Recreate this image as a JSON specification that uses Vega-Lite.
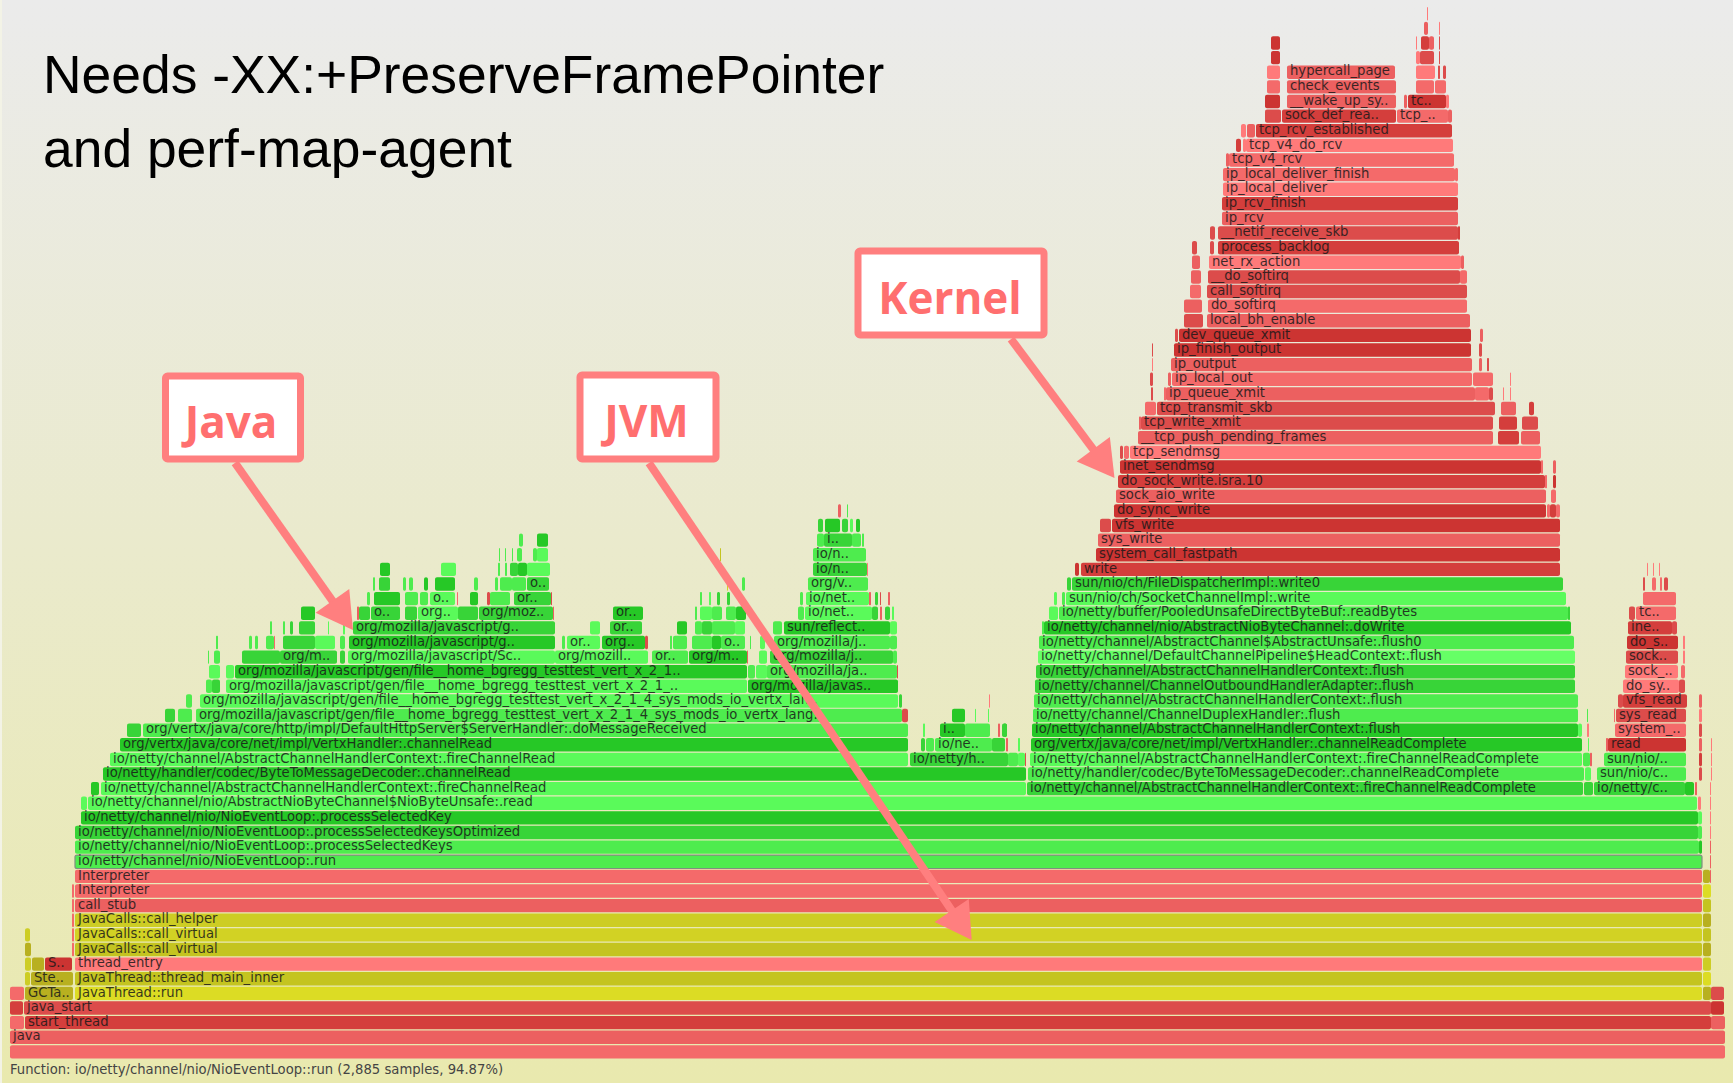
{"$schema":"https://vega.github.io/schema/vega-lite/v6.json","width":1733,"height":1083,"padding":0,"autosize":{"type":"none"},"background":"#f3f3e6","config":{"view":{"stroke":null}},
"datasets":{"frames":[
{"level":0,"x0":10,"x1":1725,"shade":"r5"},
{"level":1,"x0":10,"x1":1725,"shade":"r4","name":"java"},
{"level":2,"x0":10,"x1":24,"shade":"r5"},{"level":2,"x0":25,"x1":1711,"shade":"r2","name":"start_thread"},{"level":2,"x0":1711,"x1":1725,"shade":"r4"},
{"level":3,"x0":10,"x1":23,"shade":"r2"},{"level":3,"x0":24,"x1":1711,"shade":"r3","name":"java_start"},{"level":3,"x0":1711,"x1":1724,"shade":"r1"},
{"level":4,"x0":10,"x1":24,"shade":"r5"},{"level":4,"x0":25,"x1":73,"shade":"y1","name":"GCTa.."},{"level":4,"x0":75,"x1":1702,"shade":"y5","name":"JavaThread::run"},{"level":4,"x0":1703,"x1":1711,"shade":"y1"},{"level":4,"x0":1711,"x1":1724,"shade":"r3"},
{"level":5,"x0":25,"x1":30,"shade":"y3"},{"level":5,"x0":31,"x1":73,"shade":"y1","name":"Ste.."},{"level":5,"x0":75,"x1":1702,"shade":"y2","name":"JavaThread::thread_main_inner"},{"level":5,"x0":1703,"x1":1711,"shade":"y5"},
{"level":6,"x0":25,"x1":31,"shade":"y3"},{"level":6,"x0":32,"x1":44,"shade":"y1"},{"level":6,"x0":45,"x1":72,"shade":"r1","name":"S.."},{"level":6,"x0":75,"x1":1702,"shade":"r6","name":"thread_entry"},{"level":6,"x0":1703,"x1":1711,"shade":"y3"},
{"level":7,"x0":25,"x1":31,"shade":"y1"},{"level":7,"x0":72,"x1":74,"shade":"r5"},{"level":7,"x0":75,"x1":1702,"shade":"y2","name":"JavaCalls::call_virtual"},{"level":7,"x0":1703,"x1":1711,"shade":"y1"},
{"level":8,"x0":25,"x1":30,"shade":"y3"},{"level":8,"x0":72,"x1":74,"shade":"r5"},{"level":8,"x0":75,"x1":1702,"shade":"y4","name":"JavaCalls::call_virtual"},{"level":8,"x0":1703,"x1":1711,"shade":"y2"},
{"level":9,"x0":72,"x1":74,"shade":"r5"},{"level":9,"x0":75,"x1":1702,"shade":"y3","name":"JavaCalls::call_helper"},{"level":9,"x0":1703,"x1":1711,"shade":"y1"},
{"level":10,"x0":72,"x1":74,"shade":"r5"},{"level":10,"x0":75,"x1":1702,"shade":"r4","name":"call_stub"},{"level":10,"x0":1703,"x1":1711,"shade":"y2"},
{"level":11,"x0":72,"x1":74,"shade":"r5"},{"level":11,"x0":75,"x1":1702,"shade":"r5","name":"Interpreter"},{"level":11,"x0":1703,"x1":1711,"shade":"y5"},
{"level":12,"x0":75,"x1":1702,"shade":"r5","name":"Interpreter"},{"level":12,"x0":1703,"x1":1710,"shade":"y1"},{"level":12,"x0":1710,"x1":1711,"shade":"r4"},
{"level":13,"x0":75,"x1":1702,"shade":"g3","name":"io/netty/channel/nio/NioEventLoop:.run"},{"level":13,"x0":1710,"x1":1711,"shade":"r4"},
{"level":14,"x0":75,"x1":1699,"shade":"g3","name":"io/netty/channel/nio/NioEventLoop:.processSelectedKeys"},{"level":14,"x0":1699,"x1":1702,"shade":"g1"},{"level":14,"x0":1710,"x1":1711,"shade":"r4"},
{"level":15,"x0":75,"x1":1698,"shade":"g2","name":"io/netty/channel/nio/NioEventLoop:.processSelectedKeysOptimized"},{"level":15,"x0":1698,"x1":1702,"shade":"g3"},{"level":15,"x0":1710,"x1":1711,"shade":"r6"},
{"level":16,"x0":81,"x1":1698,"shade":"g1","name":"io/netty/channel/nio/NioEventLoop:.processSelectedKey"},{"level":16,"x0":1698,"x1":1702,"shade":"g4"},{"level":16,"x0":1710,"x1":1711,"shade":"r6"},
{"level":17,"x0":81,"x1":87,"shade":"g4"},{"level":17,"x0":88,"x1":1697,"shade":"g4","name":"io/netty/channel/nio/AbstractNioByteChannel$NioByteUnsafe:.read"},{"level":17,"x0":1698,"x1":1701,"shade":"r6"},{"level":17,"x0":1710,"x1":1711,"shade":"r6"},
{"level":18,"x0":91,"x1":99,"shade":"g1"},{"level":18,"x0":101,"x1":1026,"shade":"g4","name":"io/netty/channel/AbstractChannelHandlerContext:.fireChannelRead"},{"level":18,"x0":1027,"x1":1583,"shade":"g2","name":"io/netty/channel/AbstractChannelHandlerContext:.fireChannelReadComplete"},{"level":18,"x0":1584,"x1":1593,"shade":"g2"},{"level":18,"x0":1594,"x1":1685,"shade":"g2","name":"io/netty/c.."},{"level":18,"x0":1685,"x1":1694,"shade":"g1"},{"level":18,"x0":1695,"x1":1697,"shade":"r4"},{"level":18,"x0":1710,"x1":1711,"shade":"r6"},
{"level":19,"x0":103,"x1":1026,"shade":"g1","name":"io/netty/handler/codec/ByteToMessageDecoder:.channelRead"},{"level":19,"x0":1028,"x1":1584,"shade":"g3","name":"io/netty/handler/codec/ByteToMessageDecoder:.channelReadComplete"},{"level":19,"x0":1585,"x1":1591,"shade":"g4"},{"level":19,"x0":1597,"x1":1686,"shade":"g3","name":"sun/nio/c.."},{"level":19,"x0":1699,"x1":1702,"shade":"r3"},{"level":19,"x0":1711,"x1":1712,"shade":"r6"},
{"level":20,"x0":110,"x1":908,"shade":"g4","name":"io/netty/channel/AbstractChannelHandlerContext:.fireChannelRead"},{"level":20,"x0":910,"x1":1008,"shade":"g2","name":"io/netty/h.."},{"level":20,"x0":1008,"x1":1018,"shade":"g3"},{"level":20,"x0":1018,"x1":1025,"shade":"g4"},{"level":20,"x0":1025,"x1":1026,"shade":"r3"},{"level":20,"x0":1030,"x1":1582,"shade":"g4","name":"io/netty/channel/AbstractChannelHandlerContext:.fireChannelReadComplete"},{"level":20,"x0":1583,"x1":1590,"shade":"g3"},{"level":20,"x0":1590,"x1":1592,"shade":"r4"},{"level":20,"x0":1604,"x1":1686,"shade":"g3","name":"sun/nio/.."},{"level":20,"x0":1699,"x1":1702,"shade":"r2"},{"level":20,"x0":1711,"x1":1712,"shade":"r6"},
{"level":21,"x0":120,"x1":908,"shade":"g1","name":"org/vertx/java/core/net/impl/VertxHandler:.channelRead"},{"level":21,"x0":921,"x1":925,"shade":"g2"},{"level":21,"x0":926,"x1":934,"shade":"g3"},{"level":21,"x0":935,"x1":992,"shade":"g3","name":"io/ne.."},{"level":21,"x0":992,"x1":1005,"shade":"g2"},{"level":21,"x0":1006,"x1":1008,"shade":"r4"},{"level":21,"x0":1018,"x1":1020,"shade":"g4"},{"level":21,"x0":1031,"x1":1582,"shade":"g1","name":"org/vertx/java/core/net/impl/VertxHandler:.channelReadComplete"},{"level":21,"x0":1588,"x1":1589,"shade":"g4"},{"level":21,"x0":1606,"x1":1608,"shade":"r4"},{"level":21,"x0":1608,"x1":1686,"shade":"r1","name":"read"},{"level":21,"x0":1699,"x1":1702,"shade":"r4"},{"level":21,"x0":1711,"x1":1712,"shade":"r6"},
{"level":22,"x0":127,"x1":141,"shade":"g2"},{"level":22,"x0":143,"x1":908,"shade":"g3","name":"org/vertx/java/core/http/impl/DefaultHttpServer$ServerHandler:.doMessageReceived"},{"level":22,"x0":923,"x1":925,"shade":"g4"},{"level":22,"x0":940,"x1":965,"shade":"g1","name":"i.."},{"level":22,"x0":965,"x1":990,"shade":"g3"},{"level":22,"x0":998,"x1":1000,"shade":"r4"},{"level":22,"x0":1003,"x1":1007,"shade":"g1"},{"level":22,"x0":1002,"x1":1007,"shade":"g2"},{"level":22,"x0":1032,"x1":1578,"shade":"g1","name":"io/netty/channel/AbstractChannelHandlerContext:.flush"},{"level":22,"x0":1578,"x1":1582,"shade":"g4"},{"level":22,"x0":1587,"x1":1589,"shade":"r6"},{"level":22,"x0":1615,"x1":1686,"shade":"r5","name":"system_.."},{"level":22,"x0":1699,"x1":1702,"shade":"r3"},
{"level":23,"x0":165,"x1":175,"shade":"g2"},{"level":23,"x0":178,"x1":192,"shade":"g3"},{"level":23,"x0":196,"x1":902,"shade":"g3","name":"org/mozilla/javascript/gen/file__home_bgregg_testtest_vert_x_2_1_4_sys_mods_io_vertx_lang.."},{"level":23,"x0":902,"x1":908,"shade":"r3"},{"level":23,"x0":952,"x1":965,"shade":"g1"},{"level":23,"x0":975,"x1":976,"shade":"g4"},{"level":23,"x0":988,"x1":989,"shade":"g4"},{"level":23,"x0":1033,"x1":1578,"shade":"g3","name":"io/netty/channel/ChannelDuplexHandler:.flush"},{"level":23,"x0":1587,"x1":1588,"shade":"g3"},{"level":23,"x0":1614,"x1":1615,"shade":"r5"},{"level":23,"x0":1616,"x1":1686,"shade":"r3","name":"sys_read"},{"level":23,"x0":1699,"x1":1702,"shade":"r6"},
{"level":24,"x0":186,"x1":192,"shade":"g3"},{"level":24,"x0":200,"x1":898,"shade":"g4","name":"org/mozilla/javascript/gen/file__home_bgregg_testtest_vert_x_2_1_4_sys_mods_io_vertx_lan.."},{"level":24,"x0":899,"x1":902,"shade":"g2"},{"level":24,"x0":989,"x1":990,"shade":"r6"},{"level":24,"x0":1034,"x1":1578,"shade":"g3","name":"io/netty/channel/AbstractChannelHandlerContext:.flush"},{"level":24,"x0":1618,"x1":1623,"shade":"r3"},{"level":24,"x0":1623,"x1":1687,"shade":"r2","name":"vfs_read"},{"level":24,"x0":1699,"x1":1702,"shade":"r4"},
{"level":25,"x0":206,"x1":212,"shade":"g3"},{"level":25,"x0":212,"x1":220,"shade":"g2"},{"level":25,"x0":226,"x1":747,"shade":"g4","name":"org/mozilla/javascript/gen/file__home_bgregg_testtest_vert_x_2_1_.."},{"level":25,"x0":748,"x1":898,"shade":"g1","name":"org/mozilla/javas.."},{"level":25,"x0":1035,"x1":1575,"shade":"g2","name":"io/netty/channel/ChannelOutboundHandlerAdapter:.flush"},{"level":25,"x0":1623,"x1":1679,"shade":"r6","name":"do_sy.."},{"level":25,"x0":1679,"x1":1685,"shade":"r3"},
{"level":26,"x0":209,"x1":220,"shade":"g4"},{"level":26,"x0":226,"x1":234,"shade":"g4"},{"level":26,"x0":235,"x1":747,"shade":"g1","name":"org/mozilla/javascript/gen/file__home_bgregg_testtest_vert_x_2_1.."},{"level":26,"x0":748,"x1":755,"shade":"g3"},{"level":26,"x0":756,"x1":767,"shade":"g4"},{"level":26,"x0":767,"x1":897,"shade":"g3","name":"org/mozilla/ja.."},{"level":26,"x0":897,"x1":898,"shade":"r3"},{"level":26,"x0":1036,"x1":1575,"shade":"g2","name":"io/netty/channel/AbstractChannelHandlerContext:.flush"},{"level":26,"x0":1625,"x1":1678,"shade":"r6","name":"sock_.."},{"level":26,"x0":1681,"x1":1685,"shade":"r5"},
{"level":27,"x0":208,"x1":209,"shade":"g3"},{"level":27,"x0":214,"x1":220,"shade":"g3"},{"level":27,"x0":242,"x1":280,"shade":"g2"},{"level":27,"x0":280,"x1":337,"shade":"g2","name":"org/m.."},{"level":27,"x0":340,"x1":345,"shade":"g2"},{"level":27,"x0":348,"x1":555,"shade":"g4","name":"org/mozilla/javascript/Sc.."},{"level":27,"x0":555,"x1":648,"shade":"g4","name":"org/mozill.."},{"level":27,"x0":652,"x1":688,"shade":"g3","name":"or.."},{"level":27,"x0":689,"x1":747,"shade":"g1","name":"org/m.."},{"level":27,"x0":747,"x1":748,"shade":"r4"},{"level":27,"x0":759,"x1":767,"shade":"g4"},{"level":27,"x0":770,"x1":893,"shade":"g2","name":"org/mozilla/j.."},{"level":27,"x0":893,"x1":897,"shade":"g3"},{"level":27,"x0":1038,"x1":1575,"shade":"g5","name":"io/netty/channel/DefaultChannelPipeline$HeadContext:.flush"},{"level":27,"x0":1626,"x1":1678,"shade":"r3","name":"sock.."},{"level":27,"x0":1683,"x1":1685,"shade":"r6"},
{"level":28,"x0":216,"x1":218,"shade":"g3"},{"level":28,"x0":249,"x1":252,"shade":"g3"},{"level":28,"x0":255,"x1":258,"shade":"g3"},{"level":28,"x0":266,"x1":274,"shade":"g3"},{"level":28,"x0":274,"x1":275,"shade":"r5"},{"level":28,"x0":283,"x1":315,"shade":"g2"},{"level":28,"x0":315,"x1":335,"shade":"g4"},{"level":28,"x0":340,"x1":345,"shade":"g3"},{"level":28,"x0":349,"x1":555,"shade":"g1","name":"org/mozilla/javascript/g.."},{"level":28,"x0":562,"x1":565,"shade":"g3"},{"level":28,"x0":567,"x1":600,"shade":"g4","name":"or.."},{"level":28,"x0":602,"x1":645,"shade":"g1","name":"org.."},{"level":28,"x0":645,"x1":648,"shade":"r3"},{"level":28,"x0":670,"x1":672,"shade":"g3"},{"level":28,"x0":673,"x1":687,"shade":"g3"},{"level":28,"x0":692,"x1":712,"shade":"g3"},{"level":28,"x0":712,"x1":721,"shade":"g1"},{"level":28,"x0":721,"x1":745,"shade":"g3","name":"o.."},{"level":28,"x0":750,"x1":751,"shade":"g3"},{"level":28,"x0":760,"x1":765,"shade":"g4"},{"level":28,"x0":774,"x1":890,"shade":"g3","name":"org/mozilla/j.."},{"level":28,"x0":890,"x1":897,"shade":"g3"},{"level":28,"x0":1039,"x1":1574,"shade":"g3","name":"io/netty/channel/AbstractChannel$AbstractUnsafe:.flush0"},{"level":28,"x0":1627,"x1":1678,"shade":"r1","name":"do_s.."},{"level":28,"x0":1683,"x1":1685,"shade":"r6"},
{"level":29,"x0":270,"x1":272,"shade":"g3"},{"level":29,"x0":283,"x1":285,"shade":"g3"},{"level":29,"x0":290,"x1":293,"shade":"g2"},{"level":29,"x0":299,"x1":315,"shade":"g2"},{"level":29,"x0":328,"x1":329,"shade":"g4"},{"level":29,"x0":343,"x1":345,"shade":"g4"},{"level":29,"x0":353,"x1":555,"shade":"g2","name":"org/mozilla/javascript/g.."},{"level":29,"x0":590,"x1":600,"shade":"g4"},{"level":29,"x0":610,"x1":642,"shade":"g2","name":"or.."},{"level":29,"x0":677,"x1":687,"shade":"g1"},{"level":29,"x0":695,"x1":702,"shade":"g3"},{"level":29,"x0":702,"x1":712,"shade":"g2"},{"level":29,"x0":712,"x1":735,"shade":"g3"},{"level":29,"x0":735,"x1":745,"shade":"g4"},{"level":29,"x0":773,"x1":782,"shade":"g3"},{"level":29,"x0":784,"x1":890,"shade":"g1","name":"sun/reflect.."},{"level":29,"x0":890,"x1":897,"shade":"g4"},{"level":29,"x0":1042,"x1":1044,"shade":"g3"},{"level":29,"x0":1044,"x1":1571,"shade":"g1","name":"io/netty/channel/nio/AbstractNioByteChannel:.doWrite"},{"level":29,"x0":1628,"x1":1672,"shade":"r2","name":"ine.."},{"level":29,"x0":1672,"x1":1677,"shade":"r3"},
{"level":30,"x0":301,"x1":315,"shade":"g1"},{"level":30,"x0":357,"x1":359,"shade":"r4"},{"level":30,"x0":359,"x1":370,"shade":"g2"},{"level":30,"x0":371,"x1":400,"shade":"g2","name":"o.."},{"level":30,"x0":405,"x1":417,"shade":"g2"},{"level":30,"x0":418,"x1":458,"shade":"g4","name":"org.."},{"level":30,"x0":458,"x1":478,"shade":"g2"},{"level":30,"x0":479,"x1":553,"shade":"g2","name":"org/moz.."},{"level":30,"x0":553,"x1":554,"shade":"r4"},{"level":30,"x0":613,"x1":643,"shade":"g1","name":"or.."},{"level":30,"x0":695,"x1":697,"shade":"g3"},{"level":30,"x0":700,"x1":712,"shade":"g4"},{"level":30,"x0":712,"x1":722,"shade":"g3"},{"level":30,"x0":726,"x1":736,"shade":"g3"},{"level":30,"x0":736,"x1":746,"shade":"g1"},{"level":30,"x0":798,"x1":804,"shade":"g3"},{"level":30,"x0":805,"x1":872,"shade":"g4","name":"io/net.."},{"level":30,"x0":872,"x1":878,"shade":"g2"},{"level":30,"x0":880,"x1":882,"shade":"r4"},{"level":30,"x0":885,"x1":890,"shade":"g2"},{"level":30,"x0":892,"x1":894,"shade":"g4"},{"level":30,"x0":1049,"x1":1058,"shade":"g4"},{"level":30,"x0":1059,"x1":1568,"shade":"g3","name":"io/netty/buffer/PooledUnsafeDirectByteBuf:.readBytes"},{"level":30,"x0":1568,"x1":1570,"shade":"g2"},{"level":30,"x0":1629,"x1":1635,"shade":"r3"},{"level":30,"x0":1636,"x1":1676,"shade":"r5","name":"tc.."},
{"level":31,"x0":367,"x1":370,"shade":"g3"},{"level":31,"x0":374,"x1":400,"shade":"g1"},{"level":31,"x0":405,"x1":418,"shade":"g3"},{"level":31,"x0":420,"x1":428,"shade":"g3"},{"level":31,"x0":430,"x1":455,"shade":"g4","name":"o.."},{"level":31,"x0":457,"x1":458,"shade":"r5"},{"level":31,"x0":470,"x1":478,"shade":"g1"},{"level":31,"x0":487,"x1":490,"shade":"r3"},{"level":31,"x0":490,"x1":510,"shade":"g3"},{"level":31,"x0":514,"x1":551,"shade":"g2","name":"or.."},{"level":31,"x0":551,"x1":552,"shade":"r3"},{"level":31,"x0":700,"x1":702,"shade":"g3"},{"level":31,"x0":709,"x1":711,"shade":"g4"},{"level":31,"x0":717,"x1":720,"shade":"g2"},{"level":31,"x0":727,"x1":730,"shade":"g2"},{"level":31,"x0":800,"x1":803,"shade":"g3"},{"level":31,"x0":806,"x1":869,"shade":"g4","name":"io/net.."},{"level":31,"x0":869,"x1":871,"shade":"r4"},{"level":31,"x0":875,"x1":878,"shade":"g2"},{"level":31,"x0":880,"x1":881,"shade":"r3"},{"level":31,"x0":888,"x1":890,"shade":"r4"},{"level":31,"x0":1054,"x1":1057,"shade":"g4"},{"level":31,"x0":1062,"x1":1065,"shade":"g3"},{"level":31,"x0":1066,"x1":1566,"shade":"g4","name":"sun/nio/ch/SocketChannelImpl:.write"},{"level":31,"x0":1643,"x1":1676,"shade":"r5"},
{"level":32,"x0":373,"x1":375,"shade":"g3"},{"level":32,"x0":379,"x1":390,"shade":"g2"},{"level":32,"x0":403,"x1":406,"shade":"g3"},{"level":32,"x0":409,"x1":413,"shade":"g3"},{"level":32,"x0":424,"x1":428,"shade":"g1"},{"level":32,"x0":435,"x1":455,"shade":"g1"},{"level":32,"x0":474,"x1":478,"shade":"g3"},{"level":32,"x0":495,"x1":498,"shade":"g3"},{"level":32,"x0":500,"x1":512,"shade":"g3"},{"level":32,"x0":512,"x1":526,"shade":"g3"},{"level":32,"x0":527,"x1":549,"shade":"g2","name":"o.."},{"level":32,"x0":727,"x1":728,"shade":"y4"},{"level":32,"x0":742,"x1":745,"shade":"g3"},{"level":32,"x0":808,"x1":868,"shade":"g3","name":"org/v.."},{"level":32,"x0":1067,"x1":1071,"shade":"g2"},{"level":32,"x0":1072,"x1":1563,"shade":"g2","name":"sun/nio/ch/FileDispatcherImpl:.write0"},{"level":32,"x0":1643,"x1":1645,"shade":"r3"},{"level":32,"x0":1652,"x1":1656,"shade":"r5"},{"level":32,"x0":1660,"x1":1662,"shade":"r5"},{"level":32,"x0":1664,"x1":1668,"shade":"r3"},
{"level":33,"x0":380,"x1":390,"shade":"g1"},{"level":33,"x0":441,"x1":456,"shade":"g4"},{"level":33,"x0":498,"x1":500,"shade":"g3"},{"level":33,"x0":505,"x1":507,"shade":"g3"},{"level":33,"x0":510,"x1":518,"shade":"g2"},{"level":33,"x0":518,"x1":527,"shade":"g1"},{"level":33,"x0":527,"x1":550,"shade":"g4"},{"level":33,"x0":813,"x1":867,"shade":"g2","name":"io/n.."},{"level":33,"x0":867,"x1":868,"shade":"r6"},{"level":33,"x0":1075,"x1":1079,"shade":"r1"},{"level":33,"x0":1081,"x1":1560,"shade":"r2","name":"write"},{"level":33,"x0":1647,"x1":1648,"shade":"r6"},{"level":33,"x0":1653,"x1":1654,"shade":"r6"},{"level":33,"x0":1659,"x1":1660,"shade":"r6"},
{"level":34,"x0":499,"x1":500,"shade":"g3"},{"level":34,"x0":505,"x1":506,"shade":"g3"},{"level":34,"x0":512,"x1":513,"shade":"g3"},{"level":34,"x0":517,"x1":522,"shade":"g3"},{"level":34,"x0":533,"x1":537,"shade":"g3"},{"level":34,"x0":537,"x1":548,"shade":"g4"},{"level":34,"x0":720,"x1":721,"shade":"y2"},{"level":34,"x0":813,"x1":866,"shade":"g3","name":"io/n.."},{"level":34,"x0":1096,"x1":1560,"shade":"r1","name":"system_call_fastpath"},
{"level":35,"x0":519,"x1":523,"shade":"g3"},{"level":35,"x0":537,"x1":548,"shade":"g1"},{"level":35,"x0":817,"x1":824,"shade":"g3"},{"level":35,"x0":824,"x1":852,"shade":"g2","name":"i.."},{"level":35,"x0":852,"x1":861,"shade":"g3"},{"level":35,"x0":862,"x1":864,"shade":"g3"},{"level":35,"x0":1098,"x1":1560,"shade":"r4","name":"sys_write"},
{"level":36,"x0":818,"x1":823,"shade":"g2"},{"level":36,"x0":825,"x1":840,"shade":"g1"},{"level":36,"x0":842,"x1":848,"shade":"g2"},{"level":36,"x0":850,"x1":853,"shade":"g4"},{"level":36,"x0":856,"x1":860,"shade":"g1"},{"level":36,"x0":1100,"x1":1111,"shade":"r3"},{"level":36,"x0":1112,"x1":1560,"shade":"r1","name":"vfs_write"},
{"level":37,"x0":838,"x1":841,"shade":"r4"},{"level":37,"x0":847,"x1":848,"shade":"g3"},{"level":37,"x0":1114,"x1":1546,"shade":"r1","name":"do_sync_write"},{"level":37,"x0":1547,"x1":1550,"shade":"r5"},{"level":37,"x0":1550,"x1":1556,"shade":"r2"},{"level":37,"x0":1556,"x1":1560,"shade":"r5"},
{"level":38,"x0":1116,"x1":1546,"shade":"r4","name":"sock_aio_write"},{"level":38,"x0":1551,"x1":1556,"shade":"r5"},
{"level":39,"x0":1118,"x1":1545,"shade":"r2","name":"do_sock_write.isra.10"},{"level":39,"x0":1545,"x1":1547,"shade":"r5"},{"level":39,"x0":1553,"x1":1556,"shade":"r1"},
{"level":40,"x0":1120,"x1":1541,"shade":"r1","name":"inet_sendmsg"},{"level":40,"x0":1541,"x1":1543,"shade":"r5"},{"level":40,"x0":1553,"x1":1556,"shade":"r4"},
{"level":41,"x0":1120,"x1":1123,"shade":"r3"},{"level":41,"x0":1124,"x1":1129,"shade":"r5"},{"level":41,"x0":1130,"x1":1541,"shade":"r6","name":"tcp_sendmsg"},
{"level":42,"x0":1138,"x1":1493,"shade":"r4","name":"__tcp_push_pending_frames"},{"level":42,"x0":1498,"x1":1519,"shade":"r2"},{"level":42,"x0":1521,"x1":1540,"shade":"r4"},
{"level":43,"x0":1139,"x1":1141,"shade":"r4"},{"level":43,"x0":1141,"x1":1493,"shade":"r3","name":"tcp_write_xmit"},{"level":43,"x0":1499,"x1":1517,"shade":"r2"},{"level":43,"x0":1522,"x1":1538,"shade":"r3"},
{"level":44,"x0":1145,"x1":1156,"shade":"r5"},{"level":44,"x0":1157,"x1":1495,"shade":"r3","name":"tcp_transmit_skb"},{"level":44,"x0":1501,"x1":1516,"shade":"r4"},{"level":44,"x0":1529,"x1":1534,"shade":"r2"},
{"level":45,"x0":1151,"x1":1153,"shade":"r3"},{"level":45,"x0":1164,"x1":1166,"shade":"r5"},{"level":45,"x0":1166,"x1":1475,"shade":"r4","name":"ip_queue_xmit"},{"level":45,"x0":1475,"x1":1489,"shade":"r5"},{"level":45,"x0":1489,"x1":1493,"shade":"r3"},{"level":45,"x0":1503,"x1":1504,"shade":"r6"},{"level":45,"x0":1510,"x1":1511,"shade":"r6"},
{"level":46,"x0":1150,"x1":1153,"shade":"r3"},{"level":46,"x0":1168,"x1":1171,"shade":"r4"},{"level":46,"x0":1172,"x1":1472,"shade":"r5","name":"ip_local_out"},{"level":46,"x0":1473,"x1":1493,"shade":"r5"},{"level":46,"x0":1510,"x1":1511,"shade":"r6"},
{"level":47,"x0":1152,"x1":1153,"shade":"r6"},{"level":47,"x0":1171,"x1":1472,"shade":"r4","name":"ip_output"},{"level":47,"x0":1479,"x1":1482,"shade":"r4"},{"level":47,"x0":1487,"x1":1489,"shade":"r3"},
{"level":48,"x0":1152,"x1":1153,"shade":"r3"},{"level":48,"x0":1174,"x1":1471,"shade":"r1","name":"ip_finish_output"},{"level":48,"x0":1479,"x1":1482,"shade":"r3"},
{"level":49,"x0":1175,"x1":1178,"shade":"r3"},{"level":49,"x0":1179,"x1":1471,"shade":"r1","name":"dev_queue_xmit"},{"level":49,"x0":1480,"x1":1483,"shade":"r4"},
{"level":50,"x0":1184,"x1":1203,"shade":"r3"},{"level":50,"x0":1207,"x1":1470,"shade":"r4","name":"local_bh_enable"},
{"level":51,"x0":1184,"x1":1202,"shade":"r4"},{"level":51,"x0":1208,"x1":1467,"shade":"r5","name":"do_softirq"},
{"level":52,"x0":1190,"x1":1201,"shade":"r5"},{"level":52,"x0":1207,"x1":1467,"shade":"r3","name":"call_softirq"},
{"level":53,"x0":1191,"x1":1201,"shade":"r4"},{"level":53,"x0":1208,"x1":1460,"shade":"r3","name":"__do_softirq"},{"level":53,"x0":1460,"x1":1467,"shade":"r5"},
{"level":54,"x0":1192,"x1":1200,"shade":"r4"},{"level":54,"x0":1209,"x1":1461,"shade":"r6","name":"net_rx_action"},{"level":54,"x0":1461,"x1":1464,"shade":"r4"},
{"level":55,"x0":1192,"x1":1197,"shade":"r3"},{"level":55,"x0":1210,"x1":1214,"shade":"r3"},{"level":55,"x0":1218,"x1":1459,"shade":"r2","name":"process_backlog"},
{"level":56,"x0":1210,"x1":1215,"shade":"r3"},{"level":56,"x0":1218,"x1":1458,"shade":"r3","name":"__netif_receive_skb"},{"level":56,"x0":1458,"x1":1460,"shade":"r2"},
{"level":57,"x0":1222,"x1":1458,"shade":"r4","name":"ip_rcv"},
{"level":58,"x0":1222,"x1":1458,"shade":"r2","name":"ip_rcv_finish"},
{"level":59,"x0":1223,"x1":1458,"shade":"r6","name":"ip_local_deliver"},
{"level":60,"x0":1223,"x1":1455,"shade":"r5","name":"ip_local_deliver_finish"},{"level":60,"x0":1455,"x1":1458,"shade":"r5"},
{"level":61,"x0":1226,"x1":1229,"shade":"r4"},{"level":61,"x0":1229,"x1":1454,"shade":"r5","name":"tcp_v4_rcv"},
{"level":62,"x0":1236,"x1":1241,"shade":"r2"},{"level":62,"x0":1243,"x1":1246,"shade":"r6"},{"level":62,"x0":1246,"x1":1453,"shade":"r6","name":"tcp_v4_do_rcv"},
{"level":63,"x0":1241,"x1":1246,"shade":"r6"},{"level":63,"x0":1247,"x1":1255,"shade":"r4"},{"level":63,"x0":1256,"x1":1452,"shade":"r2","name":"tcp_rcv_established"},
{"level":64,"x0":1265,"x1":1281,"shade":"r3"},{"level":64,"x0":1282,"x1":1396,"shade":"r2","name":"sock_def_rea.."},{"level":64,"x0":1397,"x1":1448,"shade":"r5","name":"tcp_.."},{"level":64,"x0":1448,"x1":1452,"shade":"r4"},
{"level":65,"x0":1265,"x1":1280,"shade":"r1"},{"level":65,"x0":1287,"x1":1396,"shade":"r4","name":"__wake_up_sy.."},{"level":65,"x0":1404,"x1":1407,"shade":"r4"},{"level":65,"x0":1408,"x1":1446,"shade":"r1","name":"tc.."},{"level":65,"x0":1446,"x1":1449,"shade":"r6"},
{"level":66,"x0":1267,"x1":1280,"shade":"r5"},{"level":66,"x0":1287,"x1":1396,"shade":"r4","name":"check_events"},{"level":66,"x0":1416,"x1":1434,"shade":"r5"},{"level":66,"x0":1435,"x1":1446,"shade":"r5"},
{"level":67,"x0":1267,"x1":1280,"shade":"r6"},{"level":67,"x0":1287,"x1":1395,"shade":"r4","name":"hypercall_page"},{"level":67,"x0":1416,"x1":1435,"shade":"r6"},{"level":67,"x0":1438,"x1":1440,"shade":"r3"},{"level":67,"x0":1443,"x1":1446,"shade":"r3"},
{"level":68,"x0":1271,"x1":1280,"shade":"r1"},{"level":68,"x0":1416,"x1":1420,"shade":"r6"},{"level":68,"x0":1420,"x1":1434,"shade":"r3"},{"level":68,"x0":1439,"x1":1440,"shade":"r3"},
{"level":69,"x0":1271,"x1":1280,"shade":"r1"},{"level":69,"x0":1416,"x1":1417,"shade":"r6"},{"level":69,"x0":1421,"x1":1429,"shade":"r2"},{"level":69,"x0":1429,"x1":1434,"shade":"r4"},{"level":69,"x0":1439,"x1":1440,"shade":"r3"},
{"level":70,"x0":1424,"x1":1428,"shade":"r4"},{"level":70,"x0":1439,"x1":1440,"shade":"r6"},
{"level":71,"x0":1427,"x1":1428,"shade":"r6"}
],
"boxes":[{"x0":165.5,"x1":300.5,"top":46.22,"bottom":40.55},{"x0":580,"x1":716,"top":46.29,"bottom":40.55},{"x0":858,"x1":1044,"top":54.77,"bottom":49.03}],
"arrows":[{"xa":235,"ya":40.28,"xb":342.7,"yb":29.85,"turn":144.8},{"xa":649,"ya":40.28,"xb":961.7,"yb":8.66,"turn":145.9},{"xa":1011,"ya":48.75,"xb":1103.9,"yb":40.23,"turn":143.5}],
"callouts":[{"x":231,"y":41.98,"label":"Java"},{"x":646.5,"y":42.05,"label":"JVM"},{"x":950,"y":50.46,"label":"Kernel"}],
"headlines":[{"x":43,"y":65.58,"label":"Needs -XX:+PreserveFramePointer"},{"x":43,"y":60.52,"label":"and perf-map-agent"}],
"footer":[{"x":10,"y":-1.52,"label":"Function: io/netty/channel/nio/NioEventLoop::run (2,885 samples, 94.87%)"}],
"canvas":[{"x0":2,"x1":1733,"top":71.94,"bottom":-2.13}]
},
"layer":[
{"data":{"name":"canvas"},"mark":{"type":"rect","color":{"gradient":"linear","x1":0,"y1":0,"x2":0,"y2":1,"stops":[{"offset":0,"color":"#ebebeb"},{"offset":1,"color":"#e9e9ae"}]}},
"encoding":{"x":{"field":"x0","type":"quantitative","scale":{"domain":[0,1733],"nice":false,"zero":false},"axis":null},"x2":{"field":"x1"},"y":{"field":"top","type":"quantitative","scale":{"domain":[-2.13,71.94],"nice":false,"zero":false},"axis":null},"y2":{"field":"bottom"}}},
{"data":{"name":"frames"},"mark":{"type":"rect","height":13.4,"cornerRadius":2},
"encoding":{"x":{"field":"x0","type":"quantitative","axis":null},"x2":{"field":"x1"},"y":{"field":"level","type":"quantitative","axis":null},
"color":{"field":"shade","type":"nominal","legend":null,"scale":{"domain":["g1","g2","g3","g4","g5","r1","r2","r3","r4","r5","r6","y1","y2","y3","y4","y5"],"range":["#26c826","#38d438","#4eec4e","#5afa5a","#66ff66","#cc3432","#d43e3c","#dc4c4b","#ec6060","#f46a6a","#ff7a7a","#b8b020","#c4c420","#cdcd24","#d2d224","#dcdc24"]}}}},
{"data":{"name":"frames"},"transform":[{"filter":"datum.name == 'io/netty/channel/nio/NioEventLoop:.run'"}],"mark":{"type":"rect","height":13.4,"cornerRadius":2,"fillOpacity":0,"stroke":"#7f8f7f","strokeWidth":1.2},
"encoding":{"x":{"field":"x0","type":"quantitative","axis":null},"x2":{"field":"x1"},"y":{"field":"level","type":"quantitative","axis":null}}},
{"data":{"name":"frames"},"transform":[{"filter":"isValid(datum.name)"}],"mark":{"type":"text","align":"left","baseline":"middle","dx":3,"dy":-0.8,"font":"DejaVu Sans","fontSize":13.2,"color":"#1a1a1a","opacity":0.85},
"encoding":{"x":{"field":"x0","type":"quantitative","axis":null},"y":{"field":"level","type":"quantitative","axis":null},"text":{"field":"name"}}},
{"data":{"name":"arrows"},"mark":{"type":"rule","color":"#ff7f7f","strokeWidth":8},
"encoding":{"x":{"field":"xa","type":"quantitative","axis":null},"x2":{"field":"xb"},"y":{"field":"ya","type":"quantitative","axis":null},"y2":{"field":"yb"}}},
{"data":{"name":"arrows"},"mark":{"type":"point","shape":"triangle-up","filled":true,"size":1700,"color":"#ff7f7f","opacity":1},
"encoding":{"x":{"field":"xb","type":"quantitative","axis":null},"y":{"field":"yb","type":"quantitative","axis":null},"angle":{"field":"turn","type":"quantitative","scale":null}}},
{"data":{"name":"boxes"},"mark":{"type":"rect","fill":"#ffffff","stroke":"#ff7f7f","strokeWidth":7,"cornerRadius":2},
"encoding":{"x":{"field":"x0","type":"quantitative","axis":null},"x2":{"field":"x1"},"y":{"field":"top","type":"quantitative","axis":null},"y2":{"field":"bottom"}}},
{"data":{"name":"callouts"},"mark":{"type":"text","align":"center","baseline":"alphabetic","font":"Open Sans","fontWeight":"bold","fontSize":44,"color":"#ff6f6f"},
"encoding":{"x":{"field":"x","type":"quantitative","axis":null},"y":{"field":"y","type":"quantitative","axis":null},"text":{"field":"label"}}},
{"data":{"name":"headlines"},"mark":{"type":"text","align":"left","baseline":"alphabetic","font":"Liberation Sans","fontSize":53.4,"color":"#000000"},
"encoding":{"x":{"field":"x","type":"quantitative","axis":null},"y":{"field":"y","type":"quantitative","axis":null},"text":{"field":"label"}}},
{"data":{"name":"footer"},"mark":{"type":"text","align":"left","baseline":"alphabetic","font":"DejaVu Sans","fontSize":13.2,"color":"#444444"},
"encoding":{"x":{"field":"x","type":"quantitative","axis":null},"y":{"field":"y","type":"quantitative","axis":null},"text":{"field":"label"}}}
]}
